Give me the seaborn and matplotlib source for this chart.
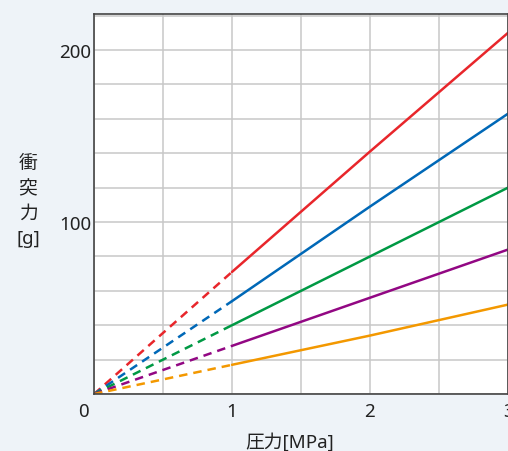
import matplotlib
matplotlib.use("Agg")
import matplotlib.pyplot as plt
from matplotlib.transforms import ScaledTranslation
import numpy as np
import seaborn as sns

# pressure [MPa] and impact force [g]
pressure = [0, 1, 2, 3]
red = [0, 71, 141, 210]
blue = [0, 54, 109, 163]
green = [0, 40, 80, 120]
purple = [0, 28, 56, 84]
orange = [0, 17, 34, 52]
series = [red, blue, green, purple, orange]
colors = ["#e8262b", "#0068b7", "#009944", "#920783", "#f39800"]

x_ticks = [0, 1, 2, 3]
y_ticks = [100, 200]
x_label = "圧力[MPa]"
y_label = "衝\n突\n力\n[g]"

sns.set_theme(style="white")
plt.rcParams["font.family"] = ["Noto Sans", "Noto Sans CJK JP", "DejaVu Sans"]

bg = "#eef3f8"
fig = plt.figure(figsize=(5.08, 4.52), dpi=100, facecolor=bg)
ax = fig.add_axes([0.185, 0.126, 0.815, 0.841])
ax.set_facecolor("white")

for vals, c in zip(series, colors):
    # measured part 1-3 MPa solid, extrapolation to origin dashed
    sns.lineplot(x=pressure[:2], y=vals[:2], color=c, lw=1.8, ax=ax,
                 linestyle=(0, (3.4, 2.4)))
    sns.lineplot(x=pressure[1:], y=vals[1:], color=c, lw=1.8, ax=ax)

ax.set_xlim(0, 3)
ax.set_ylim(0, 221)
ax.set_xticks(x_ticks)
ax.set_yticks(y_ticks)
ax.set_xticks(np.arange(0, 3.01, 0.5), minor=True)
ax.set_yticks(np.arange(0, 221, 20), minor=True)
ax.grid(which="both", color="#c8c8c8", lw=1.1)
ax.set_axisbelow(True)
ax.tick_params(which="both", length=0, labelsize=13.5, colors="#222222")
ax.tick_params(axis="x", pad=6)
ax.tick_params(axis="y", pad=2)

# origin label sits left of the axis corner
lbl0 = ax.get_xticklabels()[0]
lbl0.set_transform(lbl0.get_transform() + ScaledTranslation(-0.11, 0, fig.dpi_scale_trans))

for s in ax.spines.values():
    s.set_color("#444444")
    s.set_linewidth(1.2)

ax.set_xlabel(x_label, fontsize=13.5, color="#222222", va="center")
ax.xaxis.set_label_coords(0.473, -0.124)
ax.set_ylabel("")
fig.text(0.055, 0.554, y_label, fontsize=13.5, color="#222222", ha="center",
         va="center", linespacing=1.5)

fig.savefig("out.png", dpi=100, facecolor=bg)
